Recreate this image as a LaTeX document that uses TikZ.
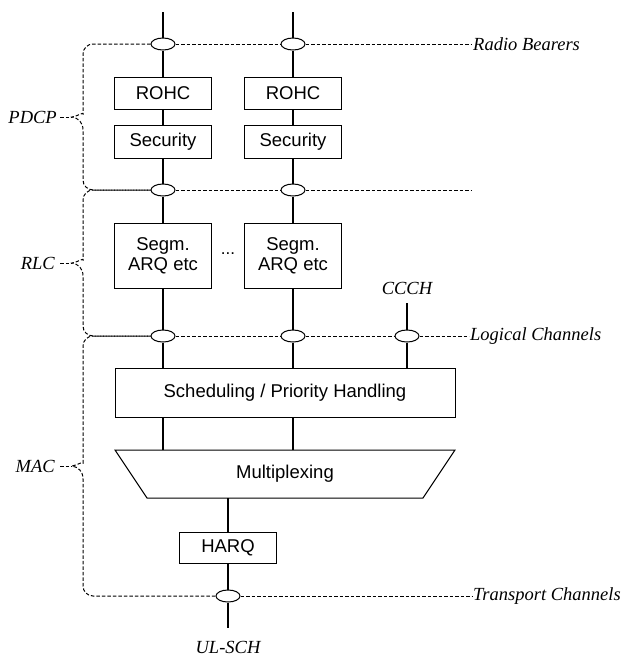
\documentclass[tikz,border=0pt]{standalone}
\usepackage{fontspec}
\setmainfont{Liberation Serif}
\setsansfont{Liberation Sans}
\usetikzlibrary{shapes.geometric}
\begin{document}
\begin{tikzpicture}[x=1pt,y=-1pt,
  solid line/.style={line width=1.5pt},
  dashline/.style={line width=1pt, dash pattern=on 3.5pt off 2pt},
  box/.style={draw, line width=1pt, fill=white, font=\sffamily\fontsize{18.5}{21}\selectfont, inner sep=0pt, align=center},
  sap/.style={draw, ellipse, line width=1pt, fill=white, minimum width=24pt, minimum height=12pt, inner sep=0pt},
  lbl/.style={font=\itshape\fontsize{18.5}{20}\selectfont, inner sep=0pt}
]
\useasboundingbox (0,0) rectangle (622,659);

% top coordinates
\coordinate (t1) at (163,12);
\coordinate (t2) at (293,12);

% boxes
\node[box, minimum width=97pt, minimum height=32pt] (rohc1) at (163,93) {ROHC};
\node[box, minimum width=97pt, minimum height=32pt] (rohc2) at (293,93) {ROHC};
\node[box, minimum width=97pt, minimum height=33pt] (sec1) at (163,141.5) {Security};
\node[box, minimum width=97pt, minimum height=33pt] (sec2) at (293,141.5) {Security};
\node[box, minimum width=97pt, minimum height=65pt] (seg1) at (163,255.5) {Segm.\\[-1pt]ARQ etc};
\node[box, minimum width=97pt, minimum height=65pt] (seg2) at (293,255.5) {Segm.\\[-1pt]ARQ etc};
\node[font=\sffamily\fontsize{17}{18}\selectfont, inner sep=0pt] (dots) at (228,254) {...};
\node[box, minimum width=340pt, minimum height=49pt] (sched) at (285,392.5) {Scheduling / Priority Handling};
\node[box, minimum width=97pt, minimum height=31pt] (harq) at (228,547.5) {HARQ};

% multiplexing trapezium
\draw[line width=1pt] (115,450) -- (455,450) -- (423,498) -- (147,498) -- cycle;
\node[font=\sffamily\fontsize{18.5}{21}\selectfont, inner sep=0pt] (mux) at (285,474) {Multiplexing};
\coordinate (s1) at (163,417);
\coordinate (s2) at (293,417);
\coordinate (m1) at (163,450);
\coordinate (m2) at (293,450);
\coordinate (mb) at (228,498);
\coordinate (ccchtop) at (407,303);
\coordinate (ulb) at (228,628);

% SAP ellipses
\node[sap] (rb1) at (163,44) {};
\node[sap] (rb2) at (293,44) {};
\node[sap] (pd1) at (163,190) {};
\node[sap] (pd2) at (293,190) {};
\node[sap] (lc1) at (163,336) {};
\node[sap] (lc2) at (293,336) {};
\node[sap] (lc3) at (407,336) {};
\node[sap] (tc) at (228,596) {};

% vertical solid lines
\draw[solid line] (t1) -- (rb1); \draw[solid line] (rb1) -- (rohc1);
\draw[solid line] (t2) -- (rb2); \draw[solid line] (rb2) -- (rohc2);
\draw[solid line] (rohc1) -- (sec1); \draw[solid line] (rohc2) -- (sec2);
\draw[solid line] (sec1) -- (pd1); \draw[solid line] (pd1) -- (seg1);
\draw[solid line] (sec2) -- (pd2); \draw[solid line] (pd2) -- (seg2);
\draw[solid line] (seg1) -- (lc1); \draw[solid line] (lc1) -- (sched.north -| lc1);
\draw[solid line] (seg2) -- (lc2); \draw[solid line] (lc2) -- (sched.north -| lc2);
\draw[solid line] (ccchtop) -- (lc3); \draw[solid line] (lc3) -- (sched.north -| lc3);
\draw[solid line] (s1) -- (m1);
\draw[solid line] (s2) -- (m2);
\draw[solid line] (mb) -- (harq);
\draw[solid line] (harq) -- (tc); \draw[solid line] (tc) -- (ulb);

% right ends of dashed lines
\coordinate (rbe) at (472,44);
\coordinate (pde) at (472,190);
\coordinate (lce) at (469,336);
\coordinate (tce) at (472,596);

% horizontal dashed lines
\draw[dashline] (rb1) -- (rb2); \draw[dashline] (rb2) -- (rbe);
\draw[dashline] (pd1) -- (pd2); \draw[dashline] (pd2) -- (pde);
\draw[dashline] (lc1) -- (lc2); \draw[dashline] (lc2) -- (lc3); \draw[dashline] (lc3) -- (lce);
\draw[dashline] (tc) -- (tce);

% braces
\coordinate (tipP) at (72,117);
\coordinate (tipR) at (72,263);
\coordinate (tipM) at (72,466);
\draw[dashline] (rb1.west) [rounded corners=10pt] -- (83,44) -- (83,104) [sharp corners] .. controls (83,112) and (78,116) .. (tipP) .. controls (78,118) and (83,122) .. (83,130) [rounded corners=10pt] -- (83,190) -- (pd1.west);
\draw[dashline] (pd1.west) [rounded corners=10pt] -- (83,190) -- (83,250) [sharp corners] .. controls (83,258) and (78,262) .. (tipR) .. controls (78,264) and (83,268) .. (83,276) [rounded corners=10pt] -- (83,336) -- (lc1.west);
\draw[dashline] (lc1.west) [rounded corners=10pt] -- (83,336) -- (83,453) [sharp corners] .. controls (83,461) and (78,465) .. (tipM) .. controls (78,467) and (83,471) .. (83,479) [rounded corners=10pt] -- (83,596) -- (tc.west);

% labels
\node[lbl, anchor=east] (pdcp) at (57,117) {PDCP};
\node[lbl, anchor=east] (rlc) at (55,263) {RLC};
\node[lbl, anchor=east] (mac) at (55,466) {MAC};
\draw[dashline] (pdcp.east) ++(3,0) -- (tipP);
\draw[dashline] (rlc.east) ++(5,0) -- (tipR);
\draw[dashline] (mac.east) ++(5,0) -- (tipM);
\node[lbl, anchor=west] (rbl) at (473,44) {Radio Bearers};
\node[lbl, anchor=west] (lcl) at (470,336) {Logical Channels};
\node[lbl, anchor=west] (tcl) at (473,596) {Transport Channels};
\node[lbl] (ccch) at (407,288) {CCCH};
\node[lbl] (ulsch) at (228,647) {UL-SCH};
\end{tikzpicture}
\end{document}
